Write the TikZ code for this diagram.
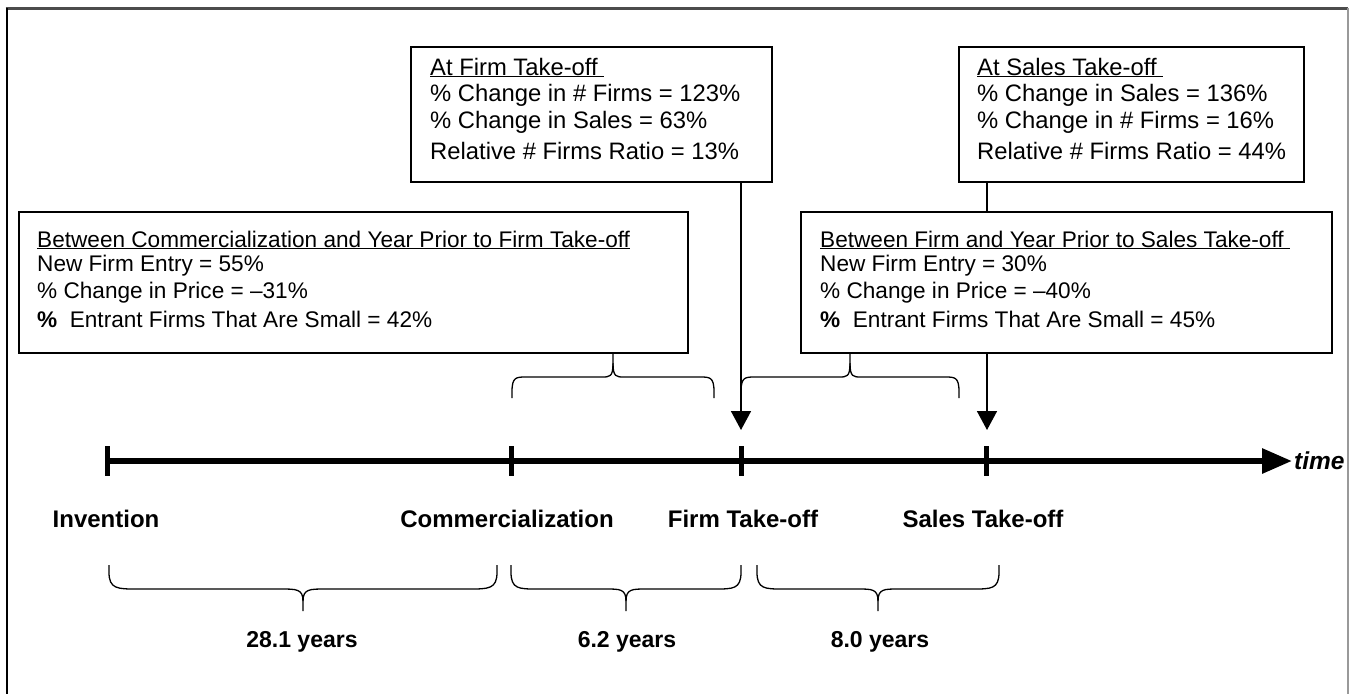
\documentclass[tikz,border=0pt]{standalone}
\usepackage{fontspec}
\setmainfont{Liberation Sans}
\usetikzlibrary{arrows.meta,calc}
\tikzset{
 boxst/.style={draw=black, line width=1.8pt, rectangle, inner sep=0pt, anchor=north west},
 txt/.style={anchor=base west, inner sep=0pt, font=\fontsize{22.6}{26}\selectfont},
 txtb/.style={anchor=base west, inner sep=0pt, font=\fontsize{23.8}{27}\selectfont},
 lbl/.style={anchor=base, inner sep=0pt, font=\fontsize{24}{28}\selectfont\bfseries},
 yrs/.style={anchor=base, inner sep=0pt, font=\fontsize{23}{27}\selectfont\bfseries},
 conn/.style={line width=1.6pt, -{Triangle[length=19pt,width=20pt]}},
 plainconn/.style={line width=1.6pt},
 bracest/.style={line width=1.3pt},
 tline/.style={line width=6pt},
 tickst/.style={line width=5pt},
}
% xL xR yEnd yMid yTip cornerRadius tipRadius
\newcommand\curlyb[7]{%
 \pgfmathsetmacro\bxc{(#1+#2)/2}%
 \pgfmathsetmacro\bya{#3+0.3*(#4-#3)}%
 \pgfmathsetmacro\byb{#4+0.55*(#5-#4)}%
 \draw[bracest] (#1,#3) -- (#1,\bya) .. controls (#1,#4) and (#1+0.3*#6,#4) .. (#1+#6,#4) -- (\bxc-#7,#4) .. controls (\bxc-0.3*#7,#4) and (\bxc,#4) .. (\bxc,\byb) -- (\bxc,#5);
 \draw[bracest] (#2,#3) -- (#2,\bya) .. controls (#2,#4) and (#2-0.3*#6,#4) .. (#2-#6,#4) -- (\bxc+#7,#4) .. controls (\bxc+0.3*#7,#4) and (\bxc,#4) .. (\bxc,\byb);
}
\begin{document}
\begin{tikzpicture}[x=1pt,y=-1pt]
\useasboundingbox[fill=white] (0,0) rectangle (1349,694);
% frame
\draw[line width=2.5pt, black!70] (5.5,8.5) -- (1348,8.5);
\draw[line width=2pt, black] (6.5,8) -- (6.5,694);
\draw[line width=2pt, black!40] (1347.5,8) -- (1347.5,694);

% boxes
\node[boxst, minimum width=361pt, minimum height=135pt] (firm) at (410,46) {};
\node[boxst, minimum width=345pt, minimum height=135pt] (sales) at (958,46) {};
\node[boxst, minimum width=669pt, minimum height=141pt] (lbox) at (18,211) {};
\node[boxst, minimum width=531pt, minimum height=141pt] (rbox) at (800,211) {};

% firm box text
\node[txtb] (f1) at (430,75) {\underline{At Firm Take-off\ }};
\node[txtb] (f2) at (430,101) {\% Change in \# Firms = 123\%};
\node[txtb] (f3) at (430,128) {\% Change in Sales = 63\%};
\node[txtb] (f4) at (430,159) {Relative \# Firms Ratio = 13\%};
% sales box text
\node[txtb] (s1) at (977,75) {\underline{At Sales Take-off\ }};
\node[txtb] (s2) at (977,101) {\% Change in Sales = 136\%};
\node[txtb] (s3) at (977,128) {\% Change in \# Firms = 16\%};
\node[txtb] (s4) at (977,159) {Relative \# Firms Ratio = 44\%};
% left box text
\node[txt] (l1) at (37,247) {\underline{Between Commercialization and Year Prior to Firm Take-off}};
\node[txt] (l2) at (37,271) {New Firm Entry = 55\%};
\node[txt] (l3) at (37,298) {\% Change in Price = –31\%};
\node[txt] (l4) at (37,327) {\textbf{\%}\ \ Entrant Firms That Are Small = 42\%};
% right box text
\node[txt] (r1) at (820,247) {\underline{Between Firm and Year Prior to Sales Take-off\ }};
\node[txt] (r2) at (820,271) {New Firm Entry = 30\%};
\node[txt] (r3) at (820,298) {\% Change in Price = –40\%};
\node[txt] (r4) at (820,327) {\textbf{\%}\ \ Entrant Firms That Are Small = 45\%};

% timeline
\coordinate (tinv) at (107,461);
\coordinate (tcom) at (511,461);
\coordinate (tfirm) at (741,461);
\coordinate (tsales) at (986,461);
\coordinate (tend) at (1292,461);
\draw[tline, -{Triangle[length=30pt,width=24pt]}] (tinv) -- (tend);
\foreach \p in {tinv,tcom,tfirm,tsales}{
  \draw[tickst] ($(\p)+(0,-15)$) -- ($(\p)+(0,15)$);
}
\node[anchor=base west, inner sep=0pt, font=\fontsize{24.5}{28}\selectfont\bfseries\itshape] (time) at (1294,469) {time};

% arrows
\coordinate (ftip) at (741,430);
\coordinate (stip) at (987,430);
\draw[conn] (firm.south -| ftip) -- (ftip);
\draw[plainconn] (sales.south -| stip) -- (rbox.north -| stip);
\draw[conn] (rbox.south -| stip) -- (stip);

% labels
\node[lbl] (linv) at (106,527) {Invention};
\node[lbl] (lcom) at (507,527) {Commercialization};
\node[lbl] (lfirm) at (743,527) {Firm Take-off};
\node[lbl] (lsales) at (983,527) {Sales Take-off};

% braces
\curlyb{512}{714}{398}{377}{352}{14}{11}
\curlyb{741}{959}{398}{377}{352}{14}{11}
\curlyb{109}{497}{565}{589}{611}{28}{22}
\curlyb{511}{741}{565}{589}{611}{26}{20}
\curlyb{757}{999}{565}{589}{611}{26}{20}

\node[yrs] (y1) at (302,647) {28.1 years};
\node[yrs] (y2) at (627,647) {6.2 years};
\node[yrs] (y3) at (880,647) {8.0 years};
\end{tikzpicture}
\end{document}
